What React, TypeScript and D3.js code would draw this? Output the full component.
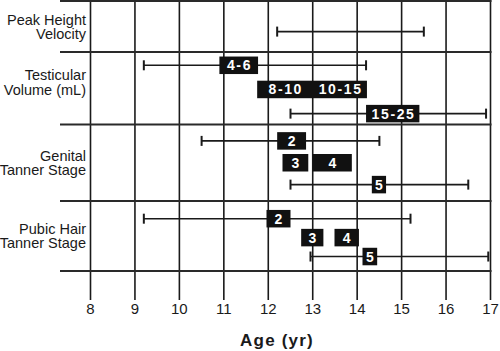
import React from "react";
import * as d3 from "d3";

// ---- data ----
const ROW_LABELS: string[][] = [
  ["Peak Height", "Velocity"],
  ["Testicular", "Volume (mL)"],
  ["Genital", "Tanner Stage"],
  ["Pubic Hair", "Tanner Stage"],
];
const LANES_PER_ROW = [1, 3, 3, 3];
const AGE_TICKS = [8, 9, 10, 11, 12, 13, 14, 15, 16, 17];

// whisker ranges (age in years)
const RANGE_ROW = [0, 1, 1, 2, 2, 3, 3];
const RANGE_LANE = [0, 0, 2, 0, 2, 0, 2];
const RANGE_START = [12.2, 9.2, 12.5, 10.5, 12.5, 9.2, 12.95];
const RANGE_END = [15.5, 14.2, 16.9, 14.5, 16.5, 15.2, 16.95];

// labelled boxes (age in years)
const BOX_LABEL = ["4-6", "8-10", "10-15", "15-25", "2", "3", "4", "5", "2", "3", "4", "5"];
const BOX_ROW = [1, 1, 1, 1, 2, 2, 2, 2, 3, 3, 3, 3];
const BOX_LANE = [0, 1, 1, 2, 0, 1, 1, 2, 0, 1, 1, 2];
const BOX_START = [10.9, 11.75, 13.0, 14.2, 12.2, 12.32, 13.0, 14.33, 11.96, 12.74, 13.49, 14.12];
const BOX_END = [11.77, 13.0, 14.22, 15.4, 12.85, 12.9, 13.88, 14.65, 12.5, 13.24, 14.04, 14.45];

// ---- layout ----
const W = 500;
const H = 351;
const ROW_EDGES = [1, 52, 124.5, 201, 271];
const LANE_PADDING = [0.6, 0.5, 0.75, 0.85];
const LANE_ALIGN = [0.6, 0.55, 0.5, 0.55];
const LABEL_OFFSET = [0.5, -6, 0, 0];
const FONT = "'Liberation Sans', Arial, Helvetica, sans-serif";
const INK = "#1a1a1a";

export default function App() {
  const x = d3.scaleLinear().domain([8, 17]).range([90.5, 490.5]);
  const laneScales = LANES_PER_ROW.map((n, r) =>
    d3
      .scalePoint<number>()
      .domain(d3.range(n))
      .range([ROW_EDGES[r], ROW_EDGES[r + 1]])
      .padding(LANE_PADDING[r])
      .align(LANE_ALIGN[r])
  );
  const laneY = (row: number, lane: number) => laneScales[row](lane) as number;
  const gridLeft = 60;
  const gridRight = x(17);
  const tickBottom = 300;
  const boxH = 17.5;
  const capH = 10;

  return (
    <svg
      width={W}
      height={H}
      style={{ position: "absolute", left: 0, top: 0, background: "#fff" }}
      fontFamily={FONT}
    >
      <rect x={0} y={0} width={W} height={H} fill="#fff" />
      {/* vertical grid / ticks */}
      {AGE_TICKS.map((t) => (
        <line key={"v" + t} x1={x(t)} x2={x(t)} y1={0} y2={tickBottom} stroke={INK} strokeWidth={1.6} />
      ))}
      {/* horizontal row lines */}
      {ROW_EDGES.map((yy, i) => (
        <line key={"h" + i} x1={gridLeft} x2={gridRight + 1} y1={yy} y2={yy} stroke="#2a2a2a" strokeWidth={2} />
      ))}
      {/* row labels */}
      {ROW_LABELS.map((lines, r) => {
        const c = (ROW_EDGES[r] + ROW_EDGES[r + 1]) / 2 + LABEL_OFFSET[r];
        return (
          <text key={"rl" + r} textAnchor="end" fontSize={14.5} fill={INK}>
            {lines.map((ln, i) => (
              <tspan key={i} x={86} y={c + (i - (lines.length - 1) / 2) * 14.5 + 5.2}>
                {ln}
              </tspan>
            ))}
          </text>
        );
      })}
      {/* ranges */}
      {RANGE_START.map((s, i) => {
        const yy = laneY(RANGE_ROW[i], RANGE_LANE[i]);
        const x1 = x(s);
        const x2 = x(RANGE_END[i]);
        return (
          <g key={"r" + i} stroke={INK} strokeWidth={1.6}>
            <line x1={x1} x2={x2} y1={yy} y2={yy} />
            <line x1={x1} x2={x1} y1={yy - capH / 2} y2={yy + capH / 2} strokeWidth={2} />
            <line x1={x2} x2={x2} y1={yy - capH / 2} y2={yy + capH / 2} strokeWidth={2} />
          </g>
        );
      })}
      {/* boxes */}
      {BOX_START.map((s, i) => {
        const yy = laneY(BOX_ROW[i], BOX_LANE[i]);
        const x1 = x(s);
        const x2 = x(BOX_END[i]);
        return (
          <g key={"b" + i}>
            <rect x={x1} y={yy - boxH / 2} width={x2 - x1} height={boxH} fill="#111" />
            <text
              x={(x1 + x2) / 2 + (BOX_LABEL[i].length > 1 ? 0.8 : 0)}
              y={yy + 5}
              textAnchor="middle"
              fill="#fff"
              fontSize={14}
              fontWeight="bold"
              letterSpacing={BOX_LABEL[i].length > 1 ? 1.6 : 0}
            >
              {BOX_LABEL[i]}
            </text>
          </g>
        );
      })}
      {/* tick labels */}
      {AGE_TICKS.map((t) => (
        <text key={"t" + t} x={x(t)} y={313.5} textAnchor="middle" fontSize={15} fill={INK}>
          {t}
        </text>
      ))}
      <text x={277} y={346} textAnchor="middle" fontSize={17} fontWeight="bold" letterSpacing={1.2} fill={INK}>
        Age (yr)
      </text>
    </svg>
  );
}
